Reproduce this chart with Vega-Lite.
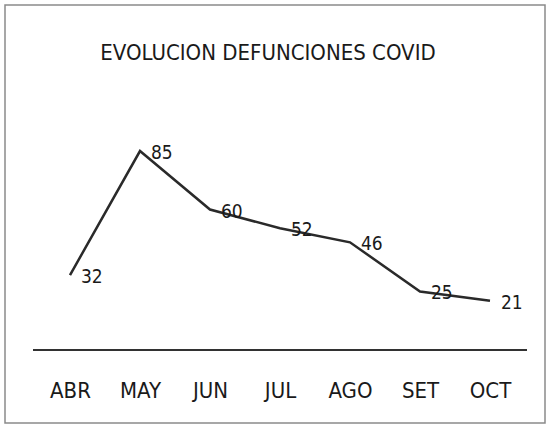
{
  "$schema": "https://vega.github.io/schema/vega-lite/v6.json",
  "width": 540,
  "height": 418,
  "padding": {"left": 5, "top": 5, "right": 1, "bottom": 5},
  "autosize": {"type": "none"},
  "background": "white",
  "config": {
    "view": {"stroke": "#8a8a8a", "strokeWidth": 1.5},
    "font": "Liberation Sans Narrow, DejaVu Sans Condensed, sans-serif"
  },
  "title": {
    "text": "EVOLUCION DEFUNCIONES COVID",
    "frame": "group",
    "anchor": "middle",
    "orient": "top",
    "offset": -77,
    "baseline": "alphabetic",
    "dx": -7,
    "fontSize": 22,
    "fontWeight": "normal",
    "color": "#1a1a1a",
    "font": "Liberation Sans Narrow, DejaVu Sans Condensed, sans-serif"
  },
  "data": {
    "values": [
      {"mes": "ABR", "defunciones": 32},
      {"mes": "MAY", "defunciones": 85},
      {"mes": "JUN", "defunciones": 60},
      {"mes": "JUL", "defunciones": 52},
      {"mes": "AGO", "defunciones": 46},
      {"mes": "SET", "defunciones": 25},
      {"mes": "OCT", "defunciones": 21}
    ]
  },
  "encoding": {
    "x": {
      "field": "mes",
      "type": "ordinal",
      "sort": null,
      "scale": {"type": "point", "range": [65, 485], "padding": 0},
      "axis": {
        "title": null,
        "orient": "bottom",
        "offset": -73,
        "domain": false,
        "ticks": false,
        "grid": false,
        "labelPadding": 30,
        "labelAngle": 0,
        "labelFontSize": 22,
        "labelColor": "#1a1a1a",
        "labelFont": "Liberation Sans Narrow, DejaVu Sans Condensed, sans-serif"
      }
    },
    "y": {
      "field": "defunciones",
      "type": "quantitative",
      "scale": {"domain": [-31.2, 147.4], "nice": false, "zero": false},
      "axis": null
    }
  },
  "layer": [
    {
      "mark": {"type": "line", "color": "#2a2a2a", "strokeWidth": 2.5}
    },
    {
      "mark": {"type": "text", "align": "left", "baseline": "middle", "dx": 11, "dy": 2, "fontSize": 19, "color": "#1a1a1a"},
      "encoding": {"text": {"field": "defunciones", "type": "quantitative"}}
    },
    {
      "mark": {"type": "rule", "color": "#333333", "strokeWidth": 1.5, "xOffset": -37, "x2Offset": 37},
      "encoding": {
        "x": {"datum": "ABR"},
        "x2": {"datum": "OCT"},
        "y": {"datum": 0}
      }
    }
  ]
}
